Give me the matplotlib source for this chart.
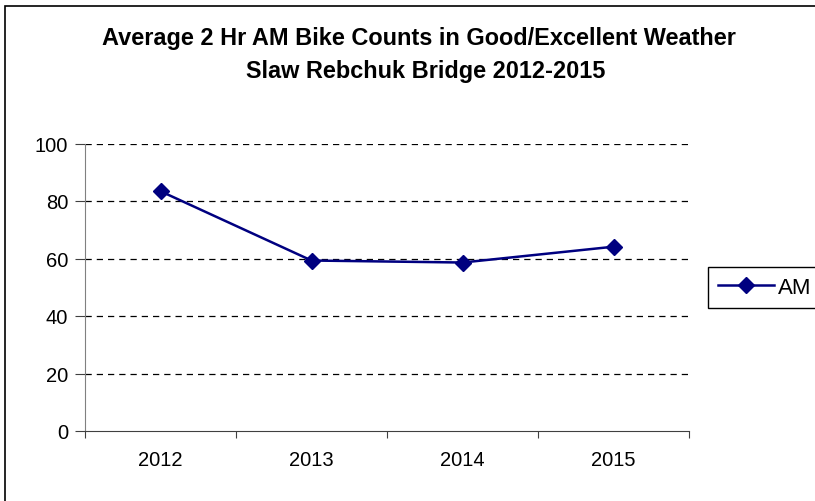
import matplotlib
matplotlib.use("Agg")
import matplotlib.pyplot as plt
from matplotlib.patches import Rectangle

# data
years = ["2012", "2013", "2014", "2015"]
am_counts = [83.4, 59.3, 58.6, 64.1]
y_ticks = [0, 20, 40, 60, 80, 100]

plt.rcParams["font.family"] = ["Liberation Sans", "DejaVu Sans"]

fig = plt.figure(figsize=(8.15, 5.02), dpi=100)
W, H = 815, 502

# outer chart border (runs off the right/bottom edge in the reference)
fig.patches.append(Rectangle((5 / W, -0.5), 2.0, 1.5 - 7 / H,
                             transform=fig.transFigure, fill=False,
                             edgecolor="black", linewidth=1.2))

ax = fig.add_axes([85 / W, 1 - 432 / H, (689 - 85) / W, (432 - 144.5) / H])

x = list(range(len(years)))
ax.plot(x, am_counts, color="#000080", linewidth=1.8, marker="D",
        markersize=8, label="AM")

ax.set_xlim(-0.5, len(years) - 0.5)
ax.set_ylim(0, 100)
ax.set_yticks(y_ticks)
ax.set_yticklabels([str(v) for v in y_ticks], fontsize=14.5)

# category boundaries get the tick marks, labels sit in the middle
ax.set_xticks([i - 0.5 for i in range(len(years) + 1)])
ax.set_xticklabels([])
ax.set_xticks(x, minor=True)
ax.set_xticklabels(years, minor=True, fontsize=14.5)
ax.tick_params(axis="x", which="major", length=5, direction="out", color="#404040")
ax.tick_params(axis="x", which="minor", length=0, pad=14)
ax.tick_params(axis="y", length=7, direction="out", pad=5, color="#404040")

for v in y_ticks[1:]:
    ax.axhline(v, color="black", linewidth=0.9, linestyle=(0, (5, 4)), zorder=0)

ax.spines["top"].set_visible(False)
ax.spines["right"].set_visible(False)
ax.spines["left"].set_color("#808080")
ax.spines["bottom"].set_color("#404040")

fig.text(419 / W, 1 - 45 / H,
         "Average 2 Hr AM Bike Counts in Good/Excellent Weather",
         ha="center", va="baseline", fontsize=16.9, fontweight="bold")
fig.text(426 / W, 1 - 78 / H,
         "Slaw Rebchuk Bridge 2012-2015",
         ha="center", va="baseline", fontsize=16.9, fontweight="bold")

# legend sits against the right edge, as in the reference
leg = fig.legend(loc="upper left", bbox_to_anchor=(708 / W, 1 - 268 / H),
                 fontsize=16, fancybox=False, framealpha=1,
                 edgecolor="black", handlelength=2.5, borderpad=0.45,
                 handletextpad=0.2, borderaxespad=0)
leg.get_frame().set_linewidth(1.0)

fig.savefig("out.png", dpi=100)
